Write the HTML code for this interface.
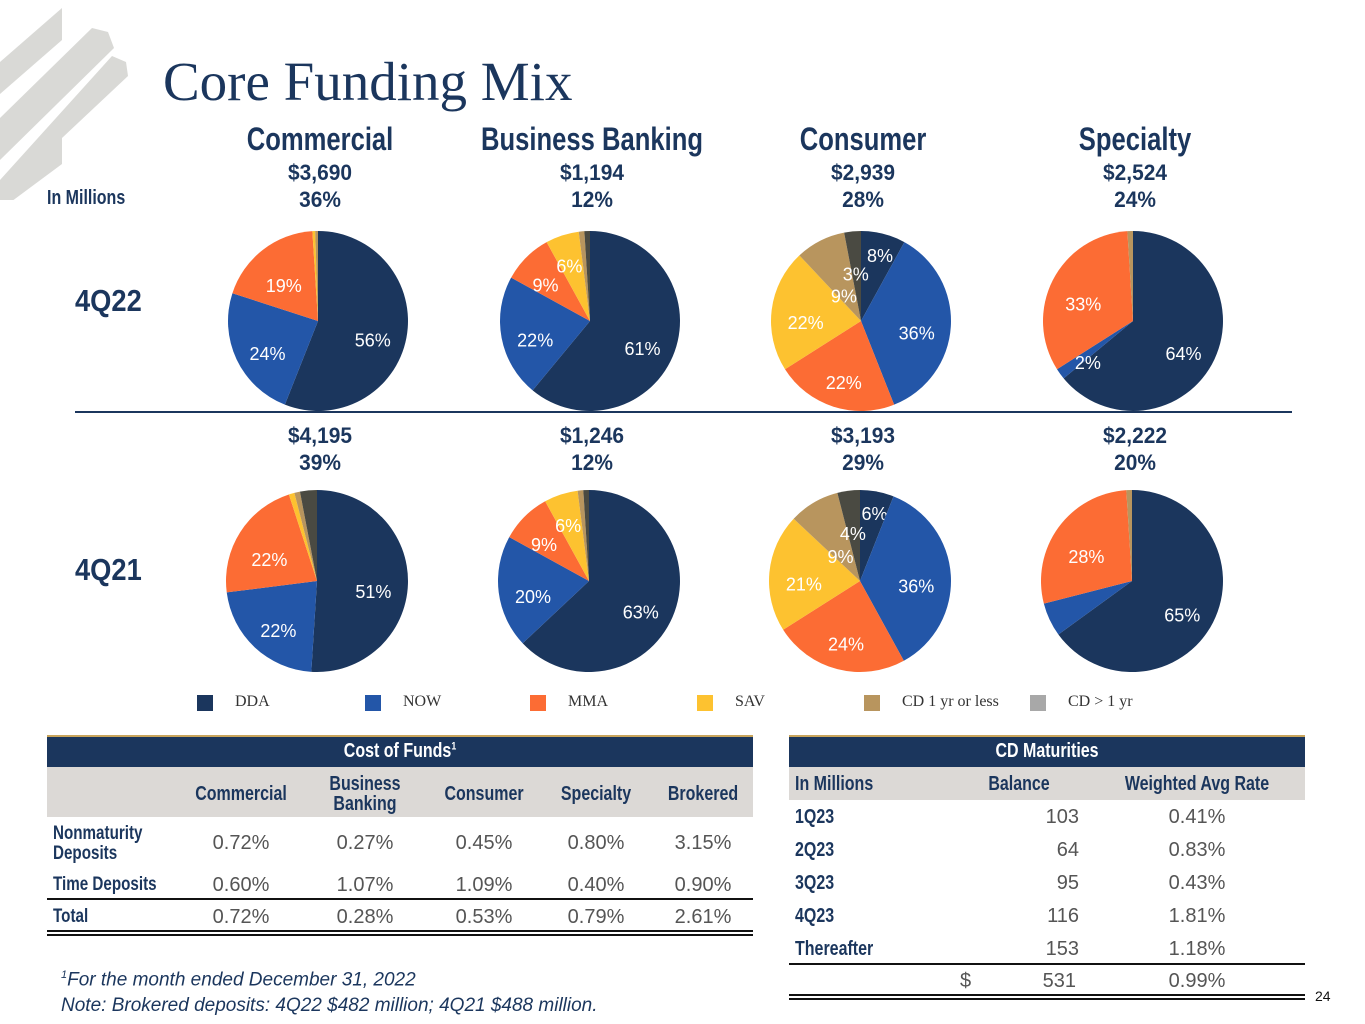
<!DOCTYPE html>
<html><head><meta charset="utf-8"><style>
body{margin:0;width:1365px;height:1024px;background:#fff;position:relative;overflow:hidden;font-family:"Liberation Sans",sans-serif;}
.a{position:absolute;}
.nb{font-family:"Liberation Sans",sans-serif;font-weight:bold;color:#1b365d;transform-origin:0 0;transform:scaleX(.8);white-space:nowrap;}
.c{transform-origin:50% 0;transform:translateX(-50%) scaleX(.8);text-align:center;white-space:nowrap;}
.c.w{transform:translateX(-50%) scaleX(.95);}
.v{color:#555;font-size:20px;}
.v.c{transform:translateX(-50%);}
</style></head><body>
<svg class="a" style="left:0;top:0" width="140" height="200">
<polygon points="0,62 62,8 62,40 0,94" fill="#d9d9d6"/>
<polygon points="0,118 92,28 108,32 114,48 0,160" fill="#d9d9d6"/>
<polygon points="0,180 112,56 126,62 128,76 62,138 62,164 0,210" fill="#d9d9d6"/>
</svg>
<div class="a" style="left:163px;top:50px;font-family:'Liberation Serif',serif;font-size:55px;color:#1b365d;white-space:nowrap">Core Funding Mix</div>
<div class="a nb" style="left:47px;top:187px;font-size:20px">In Millions</div>
<div class="a nb" style="left:75px;top:283px;font-size:31px;transform:scaleX(.88)">4Q22</div>
<div class="a nb" style="left:75px;top:552px;font-size:31px;transform:scaleX(.88)">4Q21</div>
<div class="a" style="left:75px;top:411px;width:1217px;height:2px;background:#1b365d"></div>
<div id="heads"></div>
<svg id="pies" class="a" style="left:0;top:0" width="1365" height="700"></svg>
<div id="legend"></div>

<div class="a" style="left:47px;top:735px;width:706px;height:200px">
 <div class="a" style="left:0;top:0;width:706px;height:32px;background:#1b365d;border-top:2px solid #c9a55c;box-sizing:border-box"></div>
 <div class="a nb c" style="left:353px;top:5px;color:#fff;font-size:20px">Cost of Funds<sup style="font-size:11px">1</sup></div>
 <div class="a" style="left:0;top:32px;width:706px;height:50px;background:#dcd9d6"></div>
 <div class="a nb c" style="left:194px;top:48px;font-size:20px">Commercial</div>
 <div class="a nb c" style="left:318px;top:39px;font-size:20px;line-height:20px">Business<br>Banking</div>
 <div class="a nb c" style="left:437px;top:48px;font-size:20px">Consumer</div>
 <div class="a nb c" style="left:549px;top:48px;font-size:20px">Specialty</div>
 <div class="a nb c" style="left:656px;top:48px;font-size:20px">Brokered</div>
 <div class="a nb" style="left:6px;top:89px;font-size:19px;line-height:20px">Nonmaturity<br>Deposits</div>
 <div class="a nb" style="left:6px;top:139px;font-size:19px">Time Deposits</div>
 <div class="a nb" style="left:6px;top:171px;font-size:19px">Total</div>
 <div class="a" style="left:0;top:163px;width:706px;height:2px;background:#111"></div>
 <div class="a" style="left:0;top:195px;width:706px;height:2px;background:#111"></div>
 <div class="a" style="left:0;top:199px;width:706px;height:2px;background:#111"></div>
 <div id="cofvals"></div>
</div>
<div class="a" style="left:61px;top:962px;font-size:19px;font-style:italic;color:#1b365d;line-height:26px;white-space:nowrap"><sup style="font-size:11px">1</sup>For the month ended December 31, 2022<br>Note: Brokered deposits: 4Q22 $482 million; 4Q21 $488 million.</div>

<div class="a" style="left:789px;top:735px;width:516px;height:270px">
 <div class="a" style="left:0;top:0;width:516px;height:32px;background:#1b365d;border-top:2px solid #c9a55c;box-sizing:border-box"></div>
 <div class="a nb c" style="left:258px;top:5px;color:#fff;font-size:20px">CD Maturities</div>
 <div class="a" style="left:0;top:32px;width:516px;height:33px;background:#dcd9d6"></div>
 <div class="a nb" style="left:6px;top:38px;font-size:20px">In Millions</div>
 <div class="a nb c" style="left:230px;top:38px;font-size:20px">Balance</div>
 <div class="a nb c" style="left:408px;top:38px;font-size:20px">Weighted Avg Rate</div>
 <div id="cdvals"></div>
 <div class="a" style="left:0;top:228px;width:516px;height:2px;background:#111"></div>
 <div class="a" style="left:0;top:259px;width:516px;height:2px;background:#111"></div>
 <div class="a" style="left:0;top:263px;width:516px;height:2px;background:#111"></div>
</div>
<div class="a" style="left:1315px;top:988px;font-size:14px;color:#111">24</div>

<script>
const segments=["Commercial","Business Banking","Consumer","Specialty"];
const totals22=["$3,690","$1,194","$2,939","$2,524"];
const shares22=["36%","12%","28%","24%"];
const totals21=["$4,195","$1,246","$3,193","$2,222"];
const shares21=["39%","12%","29%","20%"];
const categories=["DDA","NOW","MMA","SAV","CD 1 yr or less","CD > 1 yr"];
const mix22=[[56,24,19,0.5,0.5,0],[61,22,9,6,1,1],[8,36,22,22,9,3],[64,2,33,0,1,0]];
const mix21=[[51,22,22,1,1,3],[63,20,9,6,1,1],[6,36,24,21,9,4],[65,6,28,0,1,0]];
const labels22=[["56%","24%","19%","","",""],["61%","22%","9%","6%","",""],["8%","36%","22%","22%","9%","3%"],["64%","2%","33%","","",""]];
const labels21=[["51%","22%","22%","","",""],["63%","20%","9%","6%","",""],["6%","36%","24%","21%","9%","4%"],["65%","","28%","","",""]];
const colors=["#1b365d","#2356a8","#fc6c34","#fdc230","#b8955e","#4a4a42"];
const legendColors=["#1b365d","#2356a8","#fc6c34","#fdc230","#b8955e","#a8a8a8"];
const cx=[318,590,861,1133];
const rowCy=[321,581], R=[90,91];
const NS="http://www.w3.org/2000/svg";
const svg=document.getElementById('pies');
const heads=document.getElementById('heads');
function div(html,cls,style,name){const d=document.createElement('div');d.className='a nb c'+cls;d.style.cssText=style;d.innerHTML=html;


heads.appendChild(d);}
segments.forEach((s,i)=>{
 div(s,'',`left:${cx[i]+2}px;top:121px;font-size:32px`,'segment-title');
 div(totals22[i]+'<br>'+shares22[i],' w',`left:${cx[i]+2}px;top:159px;font-size:22px;line-height:27px`,'segment-total-4q22');
 div(totals21[i]+'<br>'+shares21[i],' w',`left:${cx[i]+2}px;top:422px;font-size:22px;line-height:27px`,'segment-total-4q21');
});
function labelFactor(k,v){
 if(k===0&&v<10) return 0.85;
 if(k===4) return 0.42;
 if(k===5) return 0.62;
 if(k===3&&v<10) return 0.74;
 if(k===2&&v<10) return 0.7;
 return 0.62;
}
function pie(vals,labs,x,y,r){
 const tot=vals.reduce((a,b)=>a+b,0);let a0=0;
 vals.forEach((v,k)=>{
  if(v<=0)return;
  const a1=a0+v/tot*2*Math.PI;
  const p=document.createElementNS(NS,'path');
  const x0=x+r*Math.sin(a0),y0=y-r*Math.cos(a0),x1=x+r*Math.sin(a1),y1=y-r*Math.cos(a1);
  p.setAttribute('d',`M${x},${y}L${x0},${y0}A${r},${r} 0 ${a1-a0>Math.PI?1:0} 1 ${x1},${y1}Z`);
  p.setAttribute('fill',colors[k]);
  
  
  svg.appendChild(p);
  if(labs[k]){
   const m=(a0+a1)/2,d=r*labelFactor(k,v);
   const t=document.createElementNS(NS,'text');
   t.setAttribute('x',x+d*Math.sin(m));t.setAttribute('y',y-d*Math.cos(m)+15);
   t.setAttribute('text-anchor','middle');t.setAttribute('fill','#fff');t.setAttribute('font-size','18');
   t.setAttribute('font-family','Liberation Sans, sans-serif');
   t.textContent=labs[k];
   
   
   svg.appendChild(t);
  }
  a0=a1;
 });
}
segments.forEach((s,i)=>{pie(mix22[i],labels22[i],cx[i],rowCy[0],R[0]);pie(mix21[i],labels21[i],cx[i]-1,rowCy[1],R[1]);});
const lg=document.getElementById('legend');
const lx=[197,365,530,697,864,1030];
categories.forEach((c,k)=>{
 const sq=document.createElement('div');sq.className='a';sq.style.cssText=`left:${lx[k]}px;top:695px;width:16px;height:16px;background:${legendColors[k]}`;
 
 
 lg.appendChild(sq);
 const t=document.createElement('div');t.className='a';t.style.cssText=`left:${lx[k]+38}px;top:693px;font-family:'Liberation Serif',serif;font-size:16px;color:#333;white-space:nowrap`;t.textContent=c;
 
 
 lg.appendChild(t);
});
const cofRows=[["0.72%","0.27%","0.45%","0.80%","3.15%"],["0.60%","1.07%","1.09%","0.40%","0.90%"],["0.72%","0.28%","0.53%","0.79%","2.61%"]];
const cofCols=[194,318,437,549,656],cofY=[97,139,171];
const cv=document.getElementById('cofvals');
cofRows.forEach((r,i)=>r.forEach((v,j)=>{const d=document.createElement('div');d.className='a c v';d.style.cssText=`left:${cofCols[j]}px;top:${cofY[i]}px`;d.textContent=v;
 
 
 cv.appendChild(d);}));
const cdLabels=["1Q23","2Q23","3Q23","4Q23","Thereafter"];
const cdBal=["103","64","95","116","153"];
const cdRate=["0.41%","0.83%","0.43%","1.81%","1.18%"];
const cd=document.getElementById('cdvals');
cdLabels.forEach((l,i)=>{const y=71+i*33;
 const a=document.createElement('div');a.className='a nb';a.style.cssText=`left:6px;top:${y}px;font-size:20px`;a.textContent=l;
 
 
 cd.appendChild(a);
 const b=document.createElement('div');b.className='a v';b.style.cssText=`right:226px;top:${y}px`;b.textContent=cdBal[i];
 
 
 cd.appendChild(b);
 const c=document.createElement('div');c.className='a c v';c.style.cssText=`left:408px;top:${y}px`;c.textContent=cdRate[i];
 
 
 cd.appendChild(c);
});
const tot=[["$","left:171px"],["531","right:229px"],["0.99%","left:408px;transform:translateX(-50%)"]];
tot.forEach(([t,s])=>{const d=document.createElement('div');d.className='a v';d.style.cssText=s+';top:235px';d.textContent=t;
 
 
 cd.appendChild(d);});
</script>
</body></html>
